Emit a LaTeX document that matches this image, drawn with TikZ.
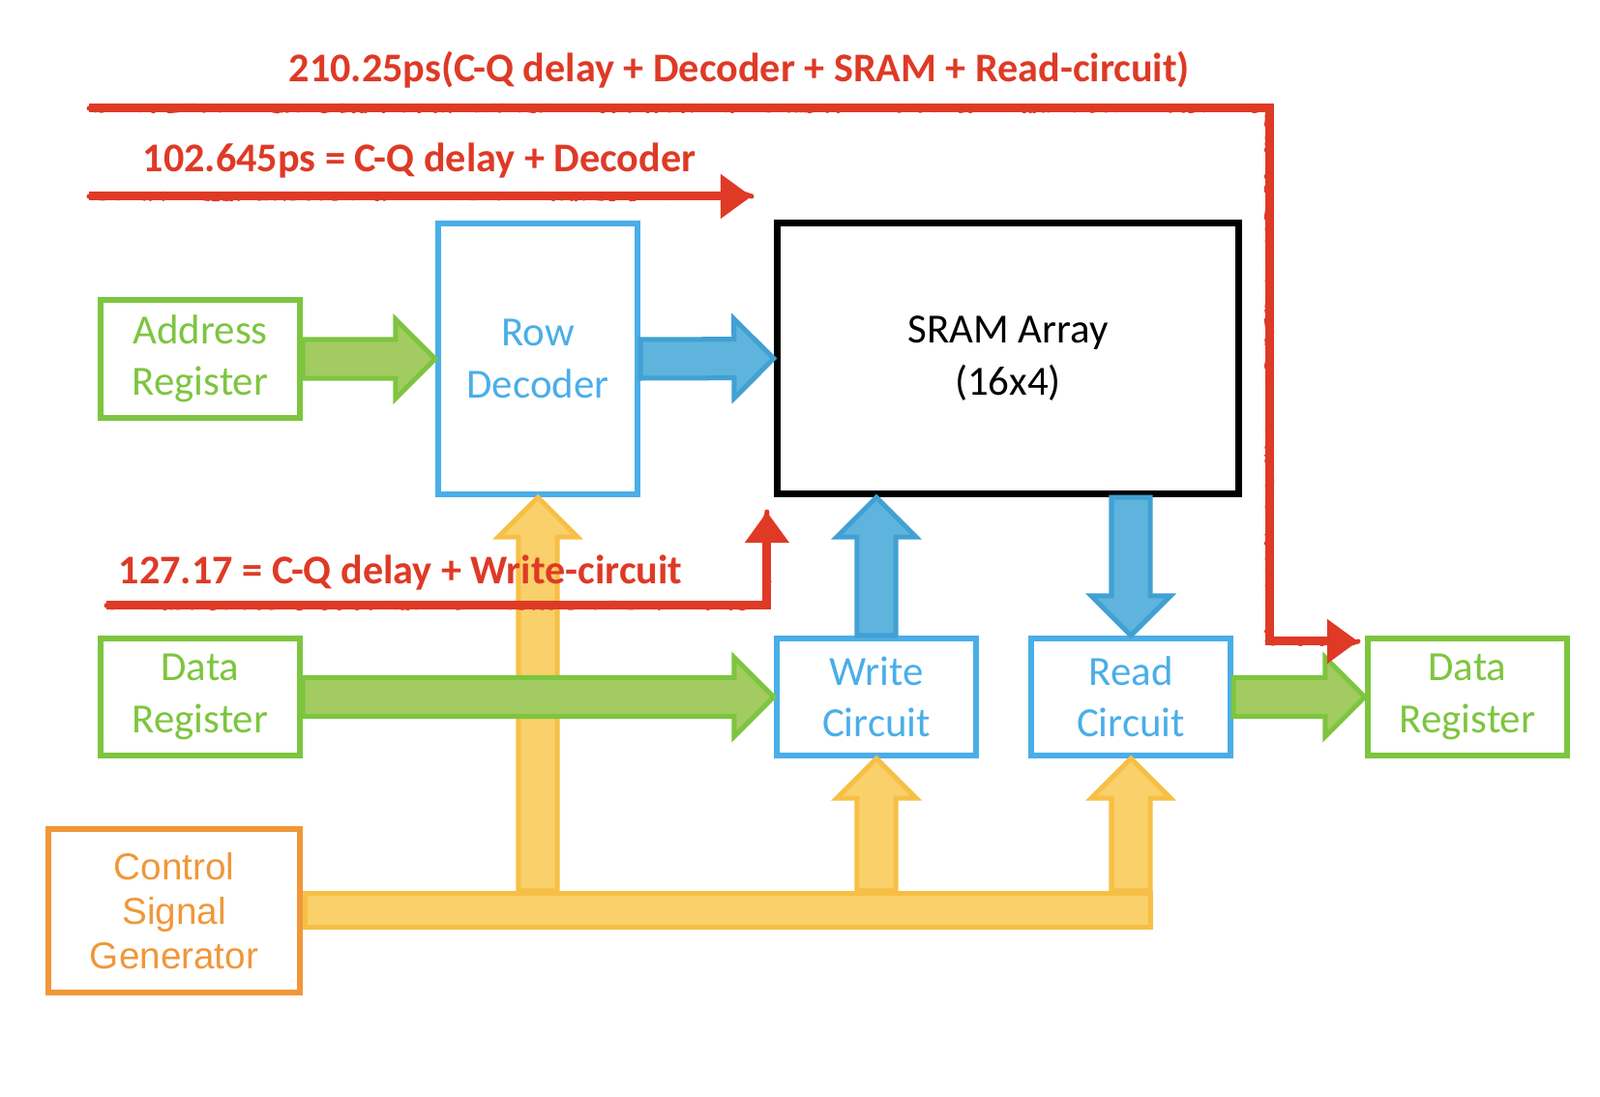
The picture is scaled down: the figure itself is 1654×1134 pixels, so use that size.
\documentclass[tikz,border=0pt]{standalone}
\usepackage{fontspec}
\setmainfont{Carlito}
\newfontfamily\ctlfont{Liberation Sans}
\usetikzlibrary{positioning,calc,arrows.meta,shapes.arrows,decorations.pathmorphing}

\definecolor{regGreen}{RGB}{125,197,63}
\definecolor{regGreenFill}{RGB}{162,203,98}
\definecolor{blkBlue}{RGB}{74,174,232}
\definecolor{busBlue}{RGB}{66,160,211}
\definecolor{busBlueFill}{RGB}{94,180,220}
\definecolor{ctlYellow}{RGB}{247,191,69}
\definecolor{ctlYellowFill}{RGB}{249,208,106}
\definecolor{ctlOrange}{RGB}{240,151,58}
\definecolor{delayRed}{RGB}{222,58,38}

\tikzset{
    blk/.style={draw, line width=0.06cm, align=center, inner sep=0pt,
        font=\fontsize{12.2}{15.2}\selectfont},
    regblk/.style={blk, draw=regGreen, text=regGreen, minimum width=2.06cm, minimum height=1.21cm},
    cirblk/.style={blk, draw=blkBlue, text=blkBlue, minimum width=2.06cm, minimum height=1.21cm},
    fatarrow/.style={single arrow, draw, line width=0.05cm, inner xsep=0pt, inner ysep=0.175cm,
        outer sep=0pt, single arrow head extend=0.21cm},
    greenarr/.style={fatarrow, draw=regGreen, fill=regGreenFill},
    bluearr/.style={fatarrow, draw=busBlue, fill=busBlueFill},
    yellowarr/.style={fatarrow, draw=ctlYellow, fill=ctlYellowFill},
    delay/.style={delayRed, line width=0.09cm, -{Triangle[length=0.32cm, width=0.44cm]},
        postaction={draw, -, line width=0.05cm, line join=round, line cap=round, decorate,
            decoration={random steps, segment length=0.7pt, amplitude=0.8pt}}},
    delaylabel/.style={anchor=base west, inner sep=0pt, text=delayRed,
        font=\fontsize{12}{14}\selectfont\bfseries},
}

\newcommand{\fatarrow}[3]{%
    \path let \p1=(#2), \p2=(#3),
        \n1={veclen(\x2-\x1,\y2-\y1)}, \n2={atan2(\y2-\y1,\x2-\x1)} in
        node[#1, minimum height=\n1, anchor=tail, rotate=\n2] at (\p1) {};}

\begin{document}
\begin{tikzpicture}[x=0.01cm, y=-0.01cm]
    \useasboundingbox (0, 0) rectangle (1654, 1134);

    \node[regblk] (addr) at (207, 371) {Address\\Register};
    \node[regblk] (dataIn) at (207, 720.5) {Data\\Register};
    \node[blk, draw=blkBlue, text=blkBlue, minimum width=2.06cm, minimum height=2.80cm] (rowdec) at (556, 371) {Row\\Decoder};
    \node[blk, draw=black, line width=0.07cm, minimum width=4.77cm, minimum height=2.80cm] (sram) at (1042, 370.5) {SRAM Array\\(16x4)};
    \node[cirblk] (write) at (906, 720.5) {Write\\Circuit};
    \node[cirblk] (read) at (1169, 720.5) {Read\\Circuit};
    \node[regblk] (dataOut) at (1517, 720.5) {Data\\Register};
    \node[blk, draw=ctlOrange, text=ctlOrange, minimum width=2.60cm, minimum height=1.69cm,
        font=\ctlfont\fontsize{11}{13.1}\selectfont] (ctrl) at (180, 941.5) {Control\\Signal\\Generator};
    \node[draw=ctlYellow, fill=ctlYellowFill, line width=0.05cm, inner sep=0pt,
        minimum width=8.74cm, minimum height=0.35cm] (bus) at (752.5, 941) {};

    \fatarrow{yellowarr}{bus.north -| rowdec.south}{rowdec.south}
    \fatarrow{yellowarr}{bus.north -| write.south}{write.south}
    \fatarrow{yellowarr}{bus.north -| read.south}{read.south}

    \fatarrow{greenarr}{addr.east}{rowdec.west}
    \fatarrow{greenarr}{dataIn.east}{write.west}
    \fatarrow{greenarr}{read.east}{dataOut.west}
    \fatarrow{bluearr}{rowdec.east}{sram.west}
    \fatarrow{bluearr}{write.north}{sram.south -| write.north}
    \fatarrow{bluearr}{sram.south -| read.north}{read.north}

    \coordinate (d210) at (92, 112);
    \coordinate (d210turn) at (1312, 112);
    \coordinate (d102) at (92, 203);
    \coordinate (d102end) at (777, 203);
    \coordinate (d127) at (110, 626);

    \draw[delay] (d210) -- (d210turn) |- ($(dataOut.north west) + (-7, 6)$);
    \draw[delay] (d102) -- (d102end);
    \draw[delay] (d127) -| ($(sram.south west) + (-7, 15)$);

    \node[delaylabel] (l210) at (298, 85) {210.25ps(C-Q delay + Decoder + SRAM + Read-circuit)};
    \node[delaylabel] (l102) at (147, 178) {102.645ps = C-Q delay + Decoder};
    \node[delaylabel] (l127) at (122, 604) {127.17 = C-Q delay + Write-circuit};
\end{tikzpicture}
\end{document}
